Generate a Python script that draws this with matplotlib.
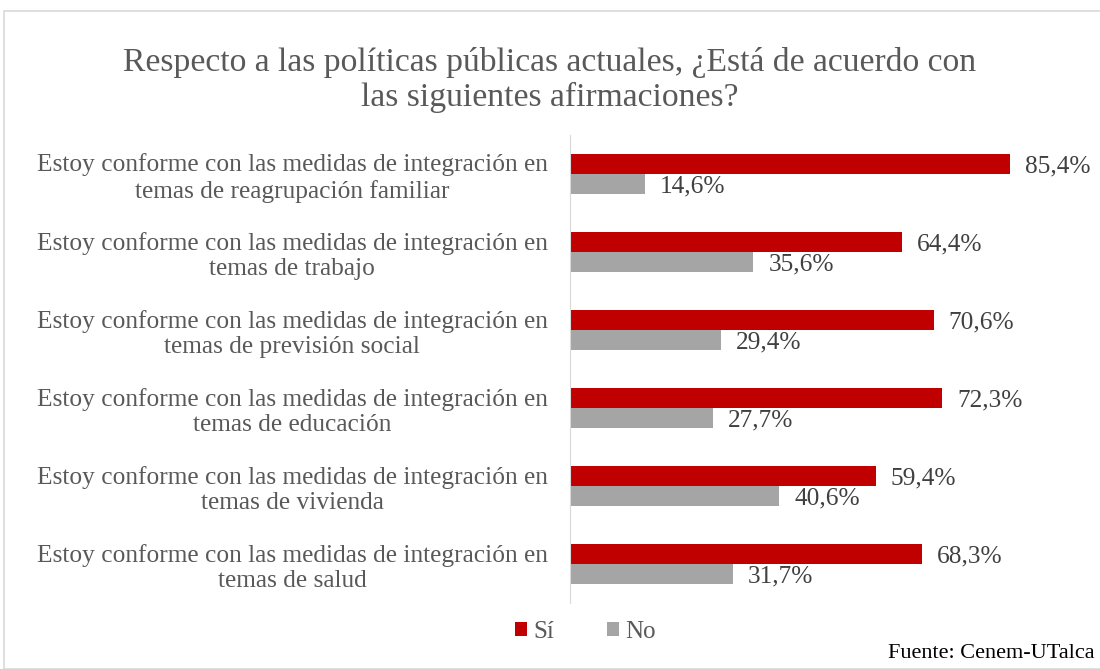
import numpy as np
import matplotlib.pyplot as plt
from matplotlib.patches import Rectangle

categorias = [
    "Estoy conforme con las medidas de integración en\ntemas de reagrupación familiar",
    "Estoy conforme con las medidas de integración en\ntemas de trabajo",
    "Estoy conforme con las medidas de integración en\ntemas de previsión social",
    "Estoy conforme con las medidas de integración en\ntemas de educación",
    "Estoy conforme con las medidas de integración en\ntemas de vivienda",
    "Estoy conforme con las medidas de integración en\ntemas de salud",
]
si = [85.4, 64.4, 70.6, 72.3, 59.4, 68.3]
no = [14.6, 35.6, 29.4, 27.7, 40.6, 31.7]

ROJO = "#C00000"
GRIS = "#A5A5A5"
fuente = "Liberation Serif"

fig = plt.figure(figsize=(11, 6.69), dpi=100)
fig.patches.append(Rectangle((0.004, 0.0), 1.2, 0.983, transform=fig.transFigure,
                             fill=False, edgecolor="#D9D9D9", linewidth=1.2))
ax = fig.add_axes([570 / 1100, 1 - 603 / 669, 515 / 1100, 468 / 669])

y = np.arange(len(categorias))
h = 0.256
b1 = ax.barh(y - h / 2, si, height=h, color=ROJO, label="Sí")
b2 = ax.barh(y + h / 2, no, height=h, color=GRIS, label="No")
for barras, vals in ((b1, si), (b2, no)):
    for r, v in zip(barras, vals):
        ax.text(r.get_width() + 2.9, r.get_y() + r.get_height() / 2 + 0.03,
                f"{v:.1f}%".replace(".", ","), va="center", ha="left",
                fontsize=18.3, color="#404040", family=fuente)

ax.set_xlim(0, 100)
ax.set_ylim(len(categorias) - 0.5, -0.5)
ax.set_yticks(y)
ax.set_yticklabels(categorias, fontsize=18.3, color="#595959", family=fuente,
                   multialignment="center", linespacing=1.2)
ax.tick_params(axis="y", length=0, pad=16)
ax.set_xticks([])
for s in ["top", "right", "bottom"]:
    ax.spines[s].set_visible(False)
ax.spines["left"].set_color("#D9D9D9")

fig.text(0.5, 1 - 80 / 669, "Respecto a las políticas públicas actuales, ¿Está de acuerdo con\nlas siguientes afirmaciones?",
         ha="center", va="center", fontsize=24.2, color="#595959", family=fuente,
         linespacing=1.13)

leg = fig.legend(handles=[b1, b2], loc="center", bbox_to_anchor=(0.532, 1 - 632 / 669),
                 ncol=2, frameon=False, prop={"family": fuente, "size": 18},
                 handlelength=0.5, handleheight=0.5, columnspacing=2.1, handletextpad=0.25)
for t in leg.get_texts():
    t.set_color("#595959")

fig.text(0.995, 1 - 653 / 669, "Fuente: Cenem-UTalca", ha="right", va="center",
         fontsize=16, color="black", family=fuente)

fig.savefig("out.png", dpi=100)
